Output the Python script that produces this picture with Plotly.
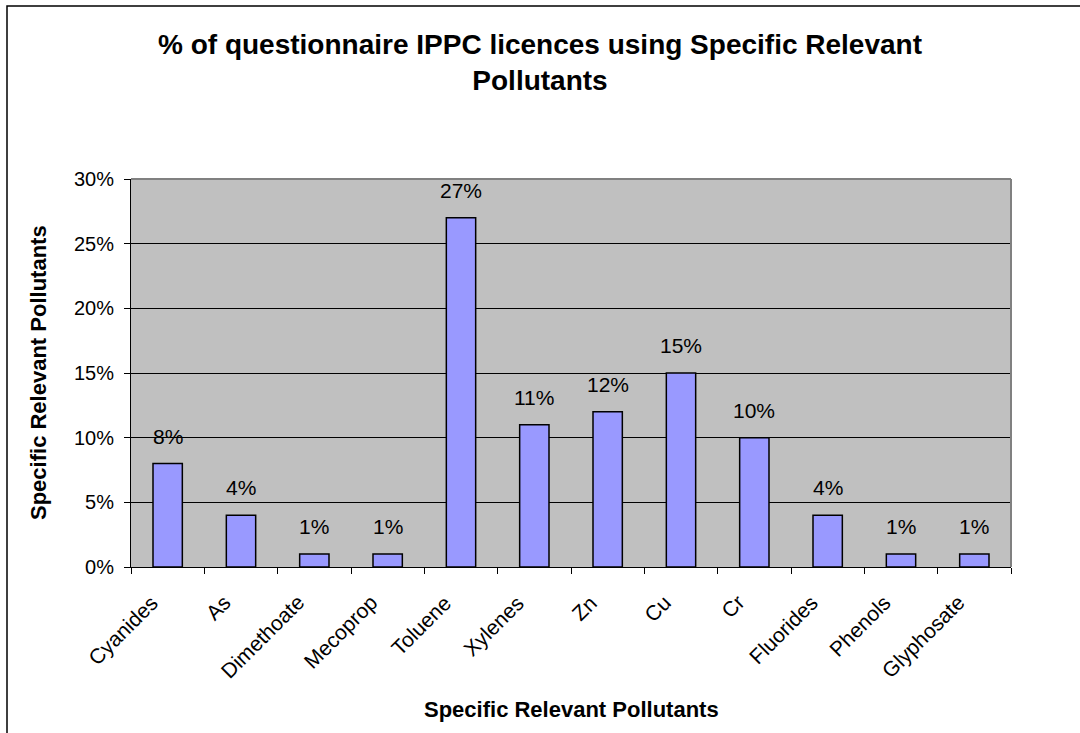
import plotly.graph_objects as go

# Share of questionnaire IPPC licences that use each specific relevant pollutant
pollutants = ["Cyanides", "As", "Dimethoate", "Mecoprop", "Toluene", "Xylenes",
              "Zn", "Cu", "Cr", "Fluorides", "Phenols", "Glyphosate"]
percent_of_licences = [8, 4, 1, 1, 27, 11, 12, 15, 10, 4, 1, 1]
value_labels = [f"{v}%" for v in percent_of_licences]

y_ticks = [0, 5, 10, 15, 20, 25, 30]
y_tick_labels = [f"{t}%" for t in y_ticks]

W, H = 1080, 733
L, R, T, B = 131, 69, 179, 166
plot_w, plot_h = W - L - R, H - T - B


def px_to_paper_x(px):
    return (px - L) / plot_w


def px_to_paper_y(py):
    return (H - B - py) / plot_h


font_family = "Liberation Sans, Arial, sans-serif"

fig = go.Figure(
    go.Bar(
        x=pollutants,
        y=percent_of_licences,
        width=0.4,
        marker=dict(color="#9999FF", line=dict(color="#000000", width=1.5)),
        hoverinfo="skip",
    )
)

# value labels above each bar
annotations = [
    dict(x=cat, y=val, text=lab, xref="x", yref="y", showarrow=False,
         xanchor="center", yanchor="bottom", yshift=14,
         font=dict(family=font_family, size=21, color="#000000"))
    for cat, val, lab in zip(pollutants, percent_of_licences, value_labels)
]

# slanted category labels under the axis
annotations += [
    dict(x=cat, y=0, text=cat, xref="x", yref="y", showarrow=False,
         textangle=-45, xanchor="right", yanchor="top",
         xshift=-3, yshift=-21,
         font=dict(family=font_family, size=21, color="#000000"))
    for cat in pollutants
]

# axis titles
annotations.append(dict(
    x=0.5, y=px_to_paper_y(709), xref="paper", yref="paper", showarrow=False,
    xanchor="center", yanchor="middle",
    text="<b>Specific Relevant Pollutants</b>",
    font=dict(family=font_family, size=22, color="#000000")))
annotations.append(dict(
    x=px_to_paper_x(38), y=0.5, xref="paper", yref="paper", showarrow=False,
    xanchor="center", yanchor="middle",
    text="<b>Specific Relevant Pollutants</b>", textangle=-90,
    font=dict(family=font_family, size=22, color="#000000")))

shapes = [
    # chart frame
    dict(type="rect", xref="paper", yref="paper",
         x0=px_to_paper_x(7), y0=px_to_paper_y(H + 20),
         x1=px_to_paper_x(W + 20), y1=px_to_paper_y(6),
         line=dict(color="#000000", width=1.5), layer="below"),
    # grey plot-area border on top and right
    dict(type="line", xref="paper", yref="paper", x0=0, x1=1, y0=1, y1=1,
         line=dict(color="#808080", width=2), layer="above"),
    dict(type="line", xref="paper", yref="paper", x0=1, x1=1, y0=0, y1=1,
         line=dict(color="#808080", width=2), layer="above"),
]

fig.update_layout(
    width=W, height=H,
    margin=dict(l=L, r=R, t=T, b=B, autoexpand=False),
    paper_bgcolor="#FFFFFF",
    plot_bgcolor="#C0C0C0",
    showlegend=False,
    title=dict(
        text="<b>% of questionnaire IPPC licences using Specific Relevant<br>Pollutants</b>",
        x=0.5, xref="container", xanchor="center",
        y=1 - 54 / H, yref="container", yanchor="middle",
        font=dict(family=font_family, size=28, color="#000000"),
    ),
    font=dict(family=font_family, size=19, color="#000000"),
    annotations=annotations,
    shapes=shapes,
    bargap=0.6,
)

fig.update_xaxes(
    type="category",
    categoryorder="array", categoryarray=pollutants,
    range=[-0.5, len(pollutants) - 0.5], autorange=False,
    showline=True, linecolor="#000000", linewidth=1,
    ticks="outside", tickson="boundaries", ticklen=6, tickcolor="#000000",
    showticklabels=False,
    showgrid=False, zeroline=False,
)

fig.update_yaxes(
    range=[0, 30], autorange=False,
    tickvals=y_ticks, ticktext=y_tick_labels,
    showline=True, linecolor="#000000", linewidth=1,
    ticks="outside", ticklen=6, tickcolor="#000000",
    ticklabelstandoff=6,
    tickfont=dict(family=font_family, size=20, color="#000000"),
    showgrid=True, gridcolor="#000000", gridwidth=1,
    zeroline=False,
)

fig.write_html("out.html")
